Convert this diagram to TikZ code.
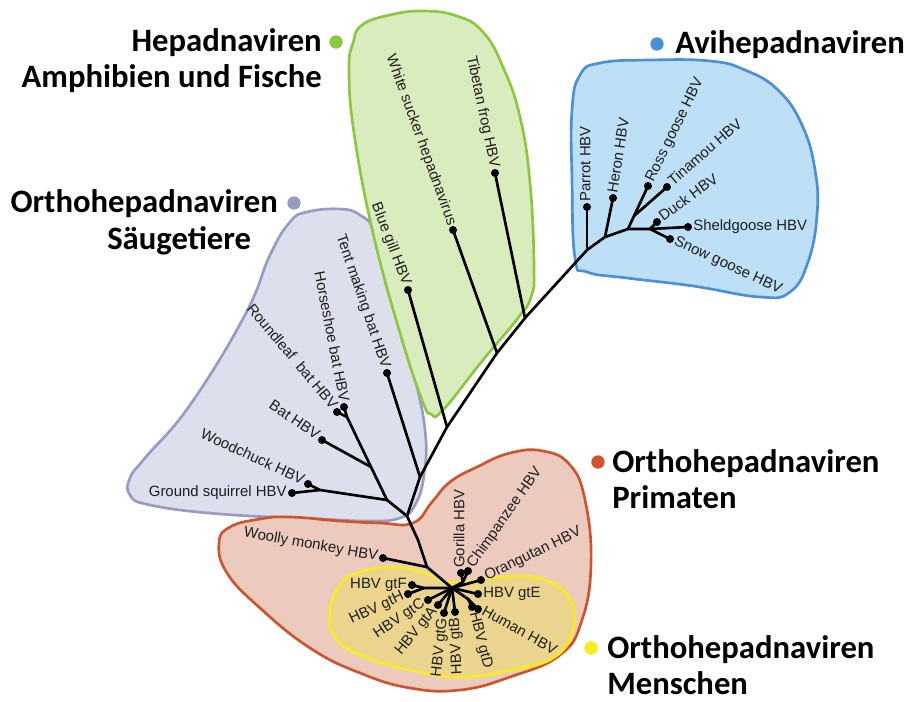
\documentclass[tikz,border=0pt]{standalone}
\usepackage{fontspec}
\setmainfont{Liberation Sans}
\newfontfamily\headfont{Carlito}
\usetikzlibrary{positioning}

\definecolor{grnfill}{RGB}{216,236,190}
\definecolor{grnline}{RGB}{141,198,63}
\definecolor{blufill}{RGB}{190,224,246}
\definecolor{bluline}{RGB}{74,144,217}
\definecolor{gryfill}{RGB}{221,223,236}
\definecolor{gryline}{RGB}{152,156,192}
\definecolor{prifill}{RGB}{236,203,190}
\definecolor{priline}{RGB}{207,84,45}
\definecolor{humfill}{RGB}{234,212,142}
\definecolor{humline}{RGB}{246,236,30}
\definecolor{labelgray}{RGB}{30,30,30}

\begin{document}
\begin{tikzpicture}[x=0.75pt, y=-0.75pt,
  branch/.style={line width=2pt, line cap=round, line join=round},
  leaf/.style={circle, fill=black, inner sep=0pt, minimum size=6pt},
  taxon/.style={font=\fontsize{11.2}{13}\selectfont, text=labelgray, inner sep=3.8pt, text height=0.72em, text depth=0.2em},
  group/.style={font=\headfont\bfseries\fontsize{24.5}{28}\selectfont, inner sep=0pt},
  gdot/.style={circle, inner sep=0pt, minimum size=10pt},
  blob/.style={line width=2pt}]
\path[use as bounding box] (0,0) rectangle (906,702);

% clade areas
\draw[blob, draw=gryline, fill=gryfill] plot[smooth cycle, tension=0.75] coordinates {(290,222) (307,212) (340,209) (360,215) (375,232) (392,280) (412,365) (425,430) (424,475) (415,505) (400,518) (370,521) (320,519) (220,514) (150,505) (130,495) (130,478) (145,458) (190,405) (245,315) (270,255)};
\draw[blob, draw=grnline, fill=grnfill] plot[smooth cycle, tension=0.75] coordinates {(353,43) (362,25) (390,15) (423,11) (457,16) (483,32) (503,67) (520,117) (530,183) (534,267) (531,297) (518,318) (483,360) (443,410) (431,414) (422,400) (400,333) (373,233) (354,133) (349,70)};
\draw[blob, draw=bluline, fill=blufill] plot[smooth cycle, tension=0.75] coordinates {(572,110) (580,75) (600,63) (650,60) (710,61) (745,70) (778,90) (802,125) (815,170) (817,215) (808,262) (790,292) (760,297) (693,286) (627,278) (587,272) (575,258) (572,180)};
\draw[blob, draw=priline, fill=prifill] plot[smooth cycle, tension=0.75] coordinates {(230,527) (260,519) (290,517) (340,521) (380,523) (413,523) (432,502) (450,482) (477,467) (510,453) (543,451) (570,465) (585,500) (591,563) (582,620) (560,655) (510,677) (460,690) (410,688) (360,673) (310,648) (260,608) (227,573) (219,543)};
\draw[blob, draw=humline, fill=humfill] plot[smooth cycle, tension=0.75] coordinates {(330,612) (340,585) (360,572) (395,567) (425,573) (450,582) (480,580) (515,576) (545,580) (568,596) (574,625) (556,656) (512,670) (460,677) (410,670) (362,656) (335,637)};

% inner points of the tree
\coordinate (root) at (407,516);
\coordinate (tr1) at (420,477);
\coordinate (tr2) at (447,427);
\coordinate (tr3) at (497,353);
\coordinate (tr4) at (525,318);
\coordinate (av0) at (587,250);
\coordinate (av1) at (605,237);
\coordinate (av2) at (628,229);
\coordinate (av3) at (650,229);
\coordinate (rt) at (634,216);
\coordinate (bw) at (387,500);
\coordinate (bt) at (371,467);
\coordinate (hb) at (347,417);
\coordinate (wg) at (320,490);
\coordinate (pm1) at (418,540);
\coordinate (pw) at (427,567);
\coordinate (hub) at (452,588);
\coordinate (fh) at (424,588);
\coordinate (dh) at (468,599);
\coordinate (gc) at (463,582);

% leaves
\node[leaf] (parrot) at (587,207) {};
\node[leaf] (heron) at (613,198) {};
\node[leaf] (ross) at (648,186) {};
\node[leaf] (tinamou) at (667,187) {};
\node[leaf] (duck) at (657,222) {};
\node[leaf] (sheld) at (688,227) {};
\node[leaf] (snow) at (670,239) {};
\node[leaf] (tibetan) at (495,173) {};
\node[leaf] (sucker) at (453,230) {};
\node[leaf] (bluegill) at (408,290) {};
\node[leaf] (tent) at (387,373) {};
\node[leaf] (horseshoe) at (344,407) {};
\node[leaf] (roundleaf) at (337,412) {};
\node[leaf] (bat) at (322,440) {};
\node[leaf] (woodchuck) at (308,484) {};
\node[leaf] (squirrel) at (292,493) {};
\node[leaf] (woolly) at (383,558) {};
\node[leaf] (gtF) at (412,585) {};
\node[leaf] (gtH) at (408,594) {};
\node[leaf] (gtC) at (428,600) {};
\node[leaf] (gtA) at (438,605) {};
\node[leaf] (gtG) at (444,613) {};
\node[leaf] (gtB) at (455,612) {};
\node[leaf] (gtD) at (472,607) {};
\node[leaf] (human) at (478,609) {};
\node[leaf] (gtE) at (478,594) {};
\node[leaf] (orang) at (481,580) {};
\node[leaf] (gorilla) at (461,573) {};
\node[leaf] (chimp) at (468,571) {};

% branches
\draw[branch] (root) -- (tr1) -- (tr2) -- (tr3) -- (tr4) -- (av0) -- (av1) -- (av2) -- (av3);
\draw[branch] (av0) -- (parrot.center);
\draw[branch] (av1) -- (heron.center);
\draw[branch] (av2) -- (rt) -- (ross.center);
\draw[branch] (rt) -- (tinamou.center);
\draw[branch] (av3) -- (duck.center);
\draw[branch] (av3) -- (sheld.center);
\draw[branch] (av3) -- (snow.center);
\draw[branch] (tr4) -- (tibetan.center);
\draw[branch] (tr3) -- (sucker.center);
\draw[branch] (tr2) -- (bluegill.center);
\draw[branch] (tr1) -- (tent.center);
\draw[branch] (root) -- (bw) -- (bt) -- (hb) -- (horseshoe.center);
\draw[branch] (hb) -- (roundleaf.center);
\draw[branch] (bt) -- (bat.center);
\draw[branch] (bw) -- (wg) -- (woodchuck.center);
\draw[branch] (wg) -- (squirrel.center);
\draw[branch] (root) -- (pm1) -- (pw) -- (hub);
\draw[branch] (pw) -- (woolly.center);
\draw[branch] (hub) -- (fh) -- (gtF.center);
\draw[branch] (fh) -- (gtH.center);
\draw[branch] (hub) -- (gtC.center);
\draw[branch] (hub) -- (gtA.center);
\draw[branch] (hub) -- (gtG.center);
\draw[branch] (hub) -- (gtB.center);
\draw[branch] (hub) -- (dh) -- (gtD.center);
\draw[branch] (dh) -- (human.center);
\draw[branch] (hub) -- (gtE.center);
\draw[branch] (hub) -- (orang.center);
\draw[branch] (hub) -- (gc) -- (gorilla.center);
\draw[branch] (gc) -- (chimp.center);

% leaf names
\node[taxon, rotate=90, anchor=west] (parrotT) at (parrot) {Parrot HBV};
\node[taxon, rotate=81, anchor=west] (heronT) at (heron) {Heron HBV};
\node[taxon, rotate=64, anchor=west] (rossT) at (ross) {Ross goose HBV};
\node[taxon, rotate=41, anchor=west] (tinamouT) at (tinamou) {Tinamou HBV};
\node[taxon, rotate=36, anchor=west] (duckT) at (duck) {Duck HBV};
\node[taxon, anchor=west] (sheldT) at (sheld) {Sheldgoose HBV};
\node[taxon, rotate=-25, anchor=west] (snowT) at (snow) {Snow goose HBV};
\node[taxon, rotate=-78, anchor=east] (tibetanT) at (tibetan) {Tibetan frog HBV};
\node[taxon, rotate=-70, anchor=east] (suckerT) at (sucker) {White sucker hepadnavirus};
\node[taxon, rotate=-69, anchor=east] (bluegillT) at (bluegill) {Blue gill HBV};
\node[taxon, rotate=-71, anchor=east] (tentT) at (tent) {Tent making bat HBV};
\node[taxon, rotate=-79, anchor=east] (horseshoeT) at (horseshoe) {Horseshoe bat HBV};
\node[taxon, rotate=-50, anchor=east] (roundleafT) at (roundleaf) {Roundleaf~~bat HBV};
\node[taxon, rotate=-34, anchor=east] (batT) at (bat) {Bat HBV};
\node[taxon, rotate=-25, anchor=east] (woodchuckT) at (woodchuck) {Woodchuck HBV};
\node[taxon, anchor=east] (squirrelT) at (squirrel) {Ground squirrel HBV};
\node[taxon, rotate=-10, anchor=east] (woollyT) at (woolly) {Woolly monkey HBV};
\node[taxon, anchor=east] (gtFT) at (gtF) {HBV gtF};
\node[taxon, rotate=25, anchor=east] (gtHT) at (gtH) {HBV gtH};
\node[taxon, rotate=34, anchor=east] (gtCT) at (gtC) {HBV gtC};
\node[taxon, rotate=51, anchor=east] (gtAT) at (gtA) {HBV gtA};
\node[taxon, rotate=84, anchor=east] (gtGT) at (gtG) {HBV gtG};
\node[taxon, rotate=93, anchor=east] (gtBT) at (gtB) {HBV gtB};
\node[taxon, rotate=-76, anchor=west] (gtDT) at (gtD) {HBV gtD};
\node[taxon, rotate=-29, anchor=west] (humanT) at (human) {Human HBV};
\node[taxon, anchor=west] (gtET) at (gtE) {HBV gtE};
\node[taxon, rotate=26, anchor=west] (orangT) at (orang) {Orangutan HBV};
\node[taxon, rotate=90, anchor=west] (gorillaT) at (gorilla) {Gorilla HBV};
\node[taxon, rotate=55, anchor=west] (chimpT) at (chimp) {Chimpanzee HBV};

% group names
\node[group, anchor=base east] (hepaA) at (322,52) {Hepadnaviren};
\node[gdot, fill=grnline] (hepaDot) at (336,42) {};
\node[group, anchor=base east] (hepaB) at (322,88) {Amphibien und Fische};
\node[gdot, fill=bluline] (aviDot) at (657,44) {};
\node[group, anchor=base west] (avi) at (675,54) {Avihepadnaviren};
\node[group, anchor=base east] (sauA) at (278,213) {Orthohepadnaviren};
\node[gdot, fill=gryline] (sauDot) at (294,203) {};
\node[group, anchor=base west] (sauB) at (107,250) {Säugetiere};
\node[gdot, fill=priline] (priDot) at (598,462) {};
\node[group, anchor=base west] (priA) at (612,472) {Orthohepadnaviren};
\node[group, anchor=base west] (priB) at (612,508) {Primaten};
\node[gdot, fill=humline] (humDot) at (591,648) {};
\node[group, anchor=base west] (humA) at (607,658) {Orthohepadnaviren};
\node[group, anchor=base west] (humB) at (607,694) {Menschen};
\end{tikzpicture}
\end{document}
